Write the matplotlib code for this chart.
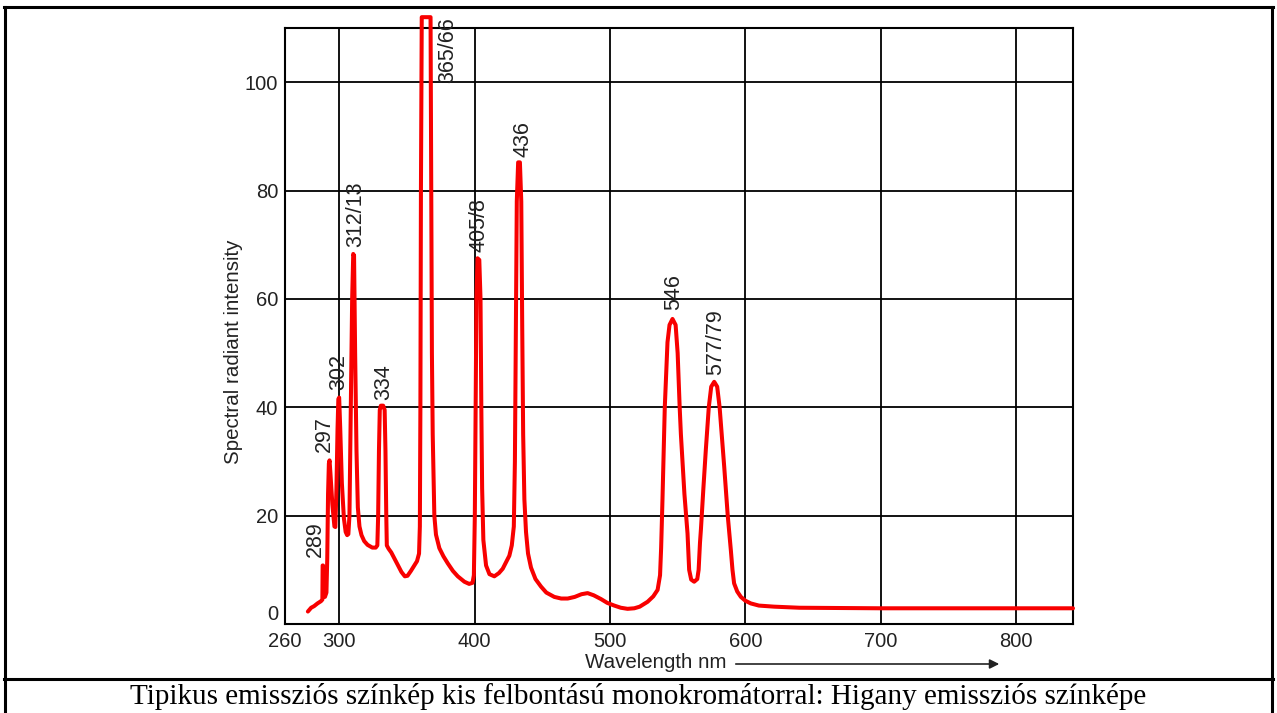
import matplotlib
matplotlib.use("Agg")
import matplotlib.pyplot as plt
from matplotlib.lines import Line2D


# spectrum (wavelength nm, spectral radiant intensity)
wavelength = [
    276.9, 279.3, 281.5, 284.0, 286.5, 287.6, 287.8, 288.1, 288.3, 289.5,
    290.6, 291.2, 291.8, 292.4, 292.9, 293.5, 295.0, 296.5, 297.2, 298.0,
    298.8, 299.4, 300.0, 300.8, 302.0, 303.5, 304.8, 305.9, 306.8, 307.6,
    308.6, 309.6, 310.4, 311.0, 311.8, 312.8, 313.8, 315.0, 316.5, 318.5,
    321.0, 324.5, 327.0, 328.2, 328.8, 329.4, 330.0, 330.8, 332.5, 333.6,
    334.2, 334.8, 335.2, 336.5, 338.5, 341.0, 343.5, 346.0, 348.5, 350.5,
    353.0, 355.5, 357.5, 359.0, 359.6, 360.0, 360.4, 361.0, 367.5, 368.0,
    368.5, 369.1, 370.3, 371.5, 374.0, 377.0, 380.2, 384.0, 387.6, 392.5,
    396.0, 398.5, 399.5, 400.2, 400.8, 401.4, 402.2, 403.5, 404.4, 405.0,
    405.6, 406.5, 408.5, 411.0, 414.6, 418.0, 420.8, 423.5, 425.7, 427.5,
    429.0, 429.8, 430.5, 431.2, 432.2, 433.5, 434.5, 435.2, 435.9, 436.8,
    438.0, 439.5, 441.7, 445.0, 449.1, 453.0, 458.9, 464.0, 468.8, 474.0,
    479.0, 483.5, 488.0, 493.4, 498.0, 503.2, 508.0, 513.0, 518.0, 522.0,
    527.8, 532.0, 535.2, 537.0, 537.8, 538.8, 540.5, 542.5, 544.0, 546.2,
    548.5, 550.0, 551.5, 552.4, 555.0, 557.3, 558.5, 560.0, 562.2, 564.5,
    565.5, 566.5, 567.2, 569.0, 570.8, 573.0, 574.8, 577.0, 579.2, 581.0,
    584.4, 587.0, 589.3, 590.5, 591.7, 594.0, 596.7, 600.0, 604.0, 610.0,
    621.3, 640.0, 700.0, 800.0, 842.0,
]
intensity = [
    2.3, 3.0, 3.3, 3.8, 4.2, 4.5, 10.8, 10.8, 5.0, 5.0,
    5.8, 12.0, 24.0, 29.6, 30.2, 28.0, 22.0, 18.0, 17.9, 25.0,
    36.0, 41.5, 41.8, 36.0, 26.0, 19.5, 17.0, 16.4, 16.6, 20.0,
    40.0, 60.0, 68.3, 68.0, 50.0, 32.0, 21.5, 18.0, 16.4, 15.3,
    14.6, 14.1, 14.1, 14.5, 20.0, 32.0, 39.5, 40.3, 40.3, 39.5,
    32.0, 20.0, 14.5, 13.9, 13.2, 12.0, 10.8, 9.6, 8.8, 8.9,
    9.8, 10.8, 11.6, 13.0, 18.0, 40.0, 80.0, 112.0, 112.0, 80.0,
    50.0, 35.0, 20.0, 16.5, 14.0, 12.5, 11.2, 9.8, 8.8, 7.8,
    7.4, 7.6, 9.0, 20.0, 40.0, 60.0, 67.5, 67.2, 60.0, 40.0,
    25.0, 15.5, 10.8, 9.2, 8.8, 9.4, 10.2, 11.5, 12.6, 14.5,
    18.0, 30.0, 55.0, 78.0, 85.2, 85.2, 78.0, 55.0, 35.0, 23.0,
    17.0, 13.0, 10.4, 8.3, 6.9, 5.8, 5.0, 4.7, 4.7, 5.0,
    5.5, 5.7, 5.3, 4.6, 3.9, 3.4, 3.0, 2.8, 2.9, 3.2,
    4.1, 5.1, 6.3, 9.0, 14.0, 23.0, 40.0, 52.0, 55.2, 56.3,
    55.2, 50.0, 40.0, 35.0, 24.0, 16.7, 10.0, 8.2, 7.8, 8.3,
    10.0, 15.0, 17.5, 25.0, 32.1, 40.0, 43.8, 44.7, 43.8, 40.0,
    29.0, 20.0, 13.6, 10.0, 7.5, 6.0, 5.0, 4.3, 3.8, 3.4,
    3.2, 3.0, 2.9, 2.9, 2.9,
]

# line labels and where they sit (lower end of the rotated text)
peak_labels = ["289", "297", "302", "312/13", "334", "365/66",
               "405/8", "436", "546", "577/79"]
label_x = [282.3, 288.9, 300.0, 312.5, 333.2, 380.4, 403.3, 435.8, 547.2, 578.2]
label_y = [12.3, 31.7, 43.1, 69.5, 41.3, 99.9, 68.6, 86.1, 57.9, 45.9]

x_ticks = [260, 300, 400, 500, 600, 700, 800]
y_ticks = [0, 20, 40, 60, 80, 100]

caption = ("Tipikus emissziós színkép kis felbontású monokromátorral: "
           "Higany emissziós színképe")

W, H = 1277, 713
fig = plt.figure(figsize=(W / 100, H / 100), dpi=100)
fig.patch.set_facecolor("white")

sans = "Liberation Sans"

ax = fig.add_axes([285 / W, 1 - 624 / H, (1073 - 285) / W, (624 - 28) / H])
ax.set_xlim(260, 842)
ax.set_ylim(0, 110)
ax.set_xticks(x_ticks)
ax.set_yticks(y_ticks)
ax.grid(True, color="black", linewidth=1.3)
ax.set_axisbelow(True)
for sp in ax.spines.values():
    sp.set_color("black")
    sp.set_linewidth(1.5)
ax.tick_params(length=0, labelsize=14.5, labelcolor="#222222")
ax.tick_params(axis="x", pad=6)
ax.tick_params(axis="y", pad=5)
for lab in ax.get_xticklabels() + ax.get_yticklabels():
    lab.set_fontfamily(sans)
ax.get_yticklabels()[0].set_va("bottom")

ax.plot(wavelength, intensity, color="#f80000", linewidth=2.9,
        solid_joinstyle="round", solid_capstyle="round", clip_on=False,
        zorder=3)

for txt, lx, ly in zip(peak_labels, label_x, label_y):
    ax.text(lx, ly, txt, rotation=90, ha="center", va="bottom",
            fontsize=15.5, family=sans, color="#222222", clip_on=False)

fig.text(234 / W, 1 - 352 / H, "Spectral radiant intensity", rotation=90,
         ha="center", va="center", fontsize=14.8, family=sans,
         color="#222222")
fig.text(656 / W, 1 - 663 / H, "Wavelength nm", ha="center", va="center",
         fontsize=14.8, family=sans, color="#222222")
fig.add_artist(matplotlib.patches.FancyArrowPatch(
    (733 / W, 1 - 664 / H), (1002 / W, 1 - 664 / H),
    transform=fig.transFigure, arrowstyle="-|>", mutation_scale=14,
    color="#222222", linewidth=1.2))

# table frame around the picture and caption
border = dict(color="black", linewidth=2.2, transform=fig.transFigure)
fig.add_artist(Line2D([4 / W, 1273 / W], [1 - 7 / H, 1 - 7 / H], **border))
fig.add_artist(Line2D([5 / W, 5 / W], [1 - 7 / H, 0], **border))
fig.add_artist(Line2D([1272 / W, 1272 / W], [1 - 7 / H, 0], **border))
fig.add_artist(Line2D([4 / W, 1273 / W], [1 - 679 / H, 1 - 679 / H], **border))

fig.text(0.5, 1 - 696 / H, caption, ha="center", va="center",
         fontsize=21, family="Liberation Serif", color="black")

fig.savefig("out.png", dpi=100)
